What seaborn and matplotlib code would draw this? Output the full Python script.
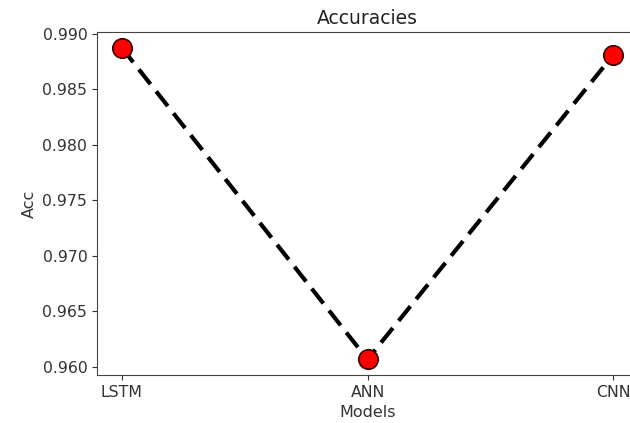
import matplotlib
matplotlib.use("Agg")
import matplotlib.pyplot as plt
import seaborn as sns
import pandas as pd

models = ["LSTM", "ANN", "CNN"]
accuracies = [0.98874, 0.96069, 0.98809]

df = pd.DataFrame({"Models": models, "Acc": accuracies})

fig = plt.figure(figsize=(6.3, 4.23), dpi=100)
ax = fig.add_axes([0.154, 0.1135, 0.8587, 0.811])

sns.lineplot(data=df, x="Models", y="Acc", sort=False, ax=ax,
             color="black", linestyle=(0, (4.5, 2.2)), linewidth=3,
             marker="o", markersize=14, markerfacecolor="red",
             markeredgecolor="#3a0000", markeredgewidth=1.2)

ax.set_title("Accuracies", fontsize=13.5, color="#222222")
ax.set_xlabel("Models", fontsize=11.5, color="#333333")
ax.set_ylabel("Acc", fontsize=11.5, color="#333333")
ax.tick_params(labelsize=11.3, colors="#333333")
ax.yaxis.set_major_formatter(matplotlib.ticker.FormatStrFormatter("%.3f"))
for s in ax.spines.values():
    s.set_color("#444444")
ax.spines["right"].set_visible(False)

fig.savefig("out.png", dpi=100)
